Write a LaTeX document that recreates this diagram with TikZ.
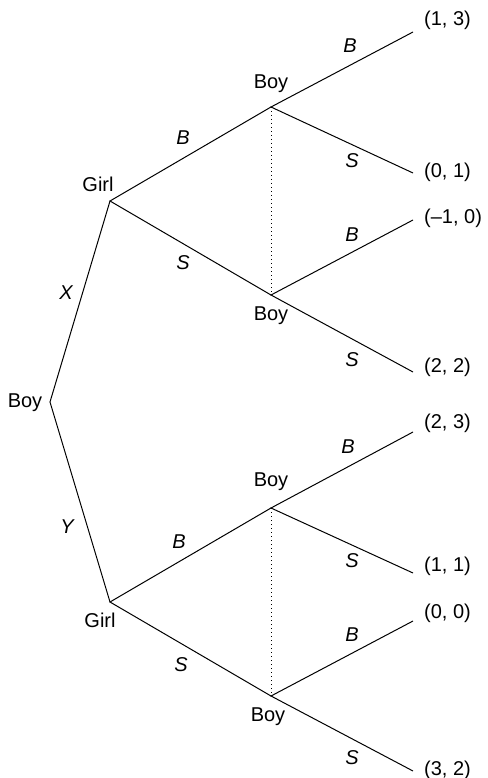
\documentclass[tikz,border=0pt]{standalone}
\usepackage{fontspec}
\setmainfont{Liberation Sans}
\usetikzlibrary{positioning}

\begin{document}
\begin{tikzpicture}[
  x=1pt, y=-1pt,
  every node/.style={font=\fontsize{20}{24}\selectfont, inner sep=0pt},
  branch/.style={line width=1pt},
  infoset/.style={line width=1pt, dash pattern=on 1.3pt off 2.7pt},
  move/.style={font=\fontsize{20}{24}\selectfont\itshape},
  payoff/.style={anchor=west}
]
\useasboundingbox (0,0) rectangle (487,778);

% decision points
\coordinate (root) at (50,402);
\coordinate (girlX) at (110,201);
\coordinate (girlY) at (110,602);
\coordinate (boyXB) at (271,107);
\coordinate (boyXS) at (271,295);
\coordinate (boyYB) at (271,508);
\coordinate (boyYS) at (271,696);

% end points
\coordinate (tXBB) at (413,32);
\coordinate (tXBS) at (413,173);
\coordinate (tXSB) at (413,220);
\coordinate (tXSS) at (413,372);
\coordinate (tYBB) at (413,432);
\coordinate (tYBS) at (413,573);
\coordinate (tYSB) at (413,621);
\coordinate (tYSS) at (413,771);

% branches
\draw[branch] (girlX) -- (root) -- (girlY);
\draw[branch] (boyXB) -- (girlX) -- (boyXS);
\draw[branch] (boyYB) -- (girlY) -- (boyYS);
\draw[branch] (tXBB) -- (boyXB) -- (tXBS);
\draw[branch] (tXSB) -- (boyXS) -- (tXSS);
\draw[branch] (tYBB) -- (boyYB) -- (tYBS);
\draw[branch] (tYSB) -- (boyYS) -- (tYSS);

% information sets
\draw[infoset] (boyXB) -- (boyXS);
\draw[infoset] (boyYB) -- (boyYS);

% players
\node (lroot) at (25,403) {Boy};
\node (lgirlX) at (98,184) {Girl};
\node (lgirlY) at (100,620) {Girl};
\node (lboyXB) at (271,84) {Boy};
\node (lboyXS) at (271,316) {Boy};
\node (lboyYB) at (271,482) {Boy};
\node (lboyYS) at (268,717) {Boy};

% moves
\node[move] (mX) at (66,293) {X};
\node[move] (mY) at (67,527) {Y};
\node[move] (mXB) at (183,138) {B};
\node[move] (mXS) at (183,263) {S};
\node[move] (mYB) at (179,542) {B};
\node[move] (mYS) at (181,665) {S};
\node[move] (mXBB) at (350,46) {B};
\node[move] (mXBS) at (352,161) {S};
\node[move] (mXSB) at (352,235) {B};
\node[move] (mXSS) at (352,360) {S};
\node[move] (mYBB) at (348,447) {B};
\node[move] (mYBS) at (352,561) {S};
\node[move] (mYSB) at (352,635) {B};
\node[move] (mYSS) at (352,758) {S};

% payoffs
\node[payoff] (pXBB) at (424,20) {(1, 3)};
\node[payoff] (pXBS) at (424,172) {(0, 1)};
\node[payoff] (pXSB) at (424,218) {(–1, 0)};
\node[payoff] (pXSS) at (424,367) {(2, 2)};
\node[payoff] (pYBB) at (424,423) {(2, 3)};
\node[payoff] (pYBS) at (424,566) {(1, 1)};
\node[payoff] (pYSB) at (424,613) {(0, 0)};
\node[payoff] (pYSS) at (424,770) {(3, 2)};
\end{tikzpicture}
\end{document}
